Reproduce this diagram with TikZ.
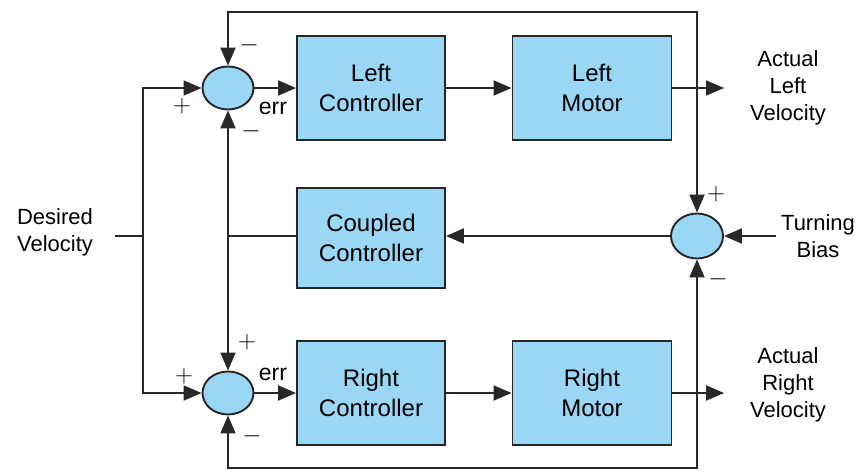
\documentclass[tikz,border=0pt]{standalone}
\usepackage{fontspec}
\setmainfont{Liberation Sans}
\usetikzlibrary{arrows.meta,shapes.geometric}
\definecolor{boxblue}{RGB}{153,215,245}
\definecolor{linegray}{RGB}{40,40,40}
\begin{document}
\begin{tikzpicture}[x=1pt, y=-1pt, line width=1.9pt, draw=linegray,
		block/.style={draw=black!85, fill=boxblue, minimum width=148pt, minimum height=104pt, align=center, font=\fontsize{24}{30}\selectfont},
		sum/.style={draw=black!85, fill=boxblue, ellipse, minimum width=51pt, minimum height=43pt, inner sep=0pt},
		arr/.style={-{Triangle[length=18pt,width=15pt]}},
		txt/.style={align=center, font=\fontsize{22}{27}\selectfont},
		sgn/.style={font=\fontsize{23}{23}\selectfont, inner sep=0pt}]
		\useasboundingbox (0,0) rectangle (866,474);
		\node[sum] (lsum) at (228,88) {};
		\node[sum] (rsum) at (228,393) {};
		\node[sum, minimum width=52pt, minimum height=45pt] (tsum) at (697,236) {};
		\node[block] (lctrl) at (371,88) {Left\\Controller};
		\node[block, minimum width=159pt] (lmotor) at (592,88) {Left\\Motor};
		\node[block, minimum height=100pt] (cctrl) at (371,238) {Coupled\\Controller};
		\node[block] (rctrl) at (371,393) {Right\\Controller};
		\node[block, minimum width=159pt] (rmotor) at (592,393) {Right\\Motor};
		\node[txt] (desired) at (55,232) {Desired\\Velocity};
		\node[txt] (lvel) at (788,88) {Actual\\Left\\Velocity};
		\node[txt] (rvel) at (788,385) {Actual\\Right\\Velocity};
		\node[txt] (bias) at (818,236) {Turning\\Bias};
		\coordinate (dvin) at (115,236);
		\coordinate (split) at (143,236);
		\coordinate (cjoin) at (228,236);
		\coordinate (ltap) at (697,88);
		\coordinate (rtap) at (697,393);
		\coordinate (topL) at (228,12);
		\coordinate (botL) at (228,468);
		\coordinate (lout) at (724,88);
		\coordinate (rout) at (724,393);
		\coordinate (bin) at (776,236);
		\draw (dvin) -- (split);
		\draw[arr] (split) |- (lsum.west);
		\draw[arr] (split) |- (rsum.west);
		\draw[arr] (lsum.east) -- (lctrl.west);
		\draw[arr] (lctrl.east) -- (lmotor.west);
		\draw[arr] (lmotor.east) -- (lout);
		\draw[arr] (rsum.east) -- (rctrl.west);
		\draw[arr] (rctrl.east) -- (rmotor.west);
		\draw[arr] (rmotor.east) -- (rout);
		\draw[arr] (ltap) |- (topL) -- (lsum.north);
		\draw[arr] (ltap) -- (tsum.north);
		\draw[arr] (rtap) |- (botL) -- (rsum.south);
		\draw[arr] (rtap) -- (tsum.south);
		\draw[arr] (bin) -- (tsum.east);
		\draw[arr] (tsum.west) -- (cctrl.east |- tsum.west);
		\draw (cctrl.west |- cjoin) -- (cjoin);
		\draw[arr] (cjoin) -- (lsum.south);
		\draw[arr] (cjoin) -- (rsum.north);
		\node[sgn] (lsumtop) at (249,45) {$-$};
		\node[sgn] (lsumin) at (182,106) {$+$};
		\node[sgn] (lsumbot) at (251,131) {$-$};
		\node[sgn] (lerr) at (273,108) {err};
		\node[sgn] (rsumtop) at (247,342) {$+$};
		\node[sgn] (rsumin) at (184,376) {$+$};
		\node[sgn] (rsumbot) at (252,436) {$-$};
		\node[sgn] (rerr) at (273,374) {err};
		\node[sgn] (tsumtop) at (716,194) {$+$};
		\node[sgn] (tsumbot) at (718,279) {$-$};
	\end{tikzpicture}
\end{document}
